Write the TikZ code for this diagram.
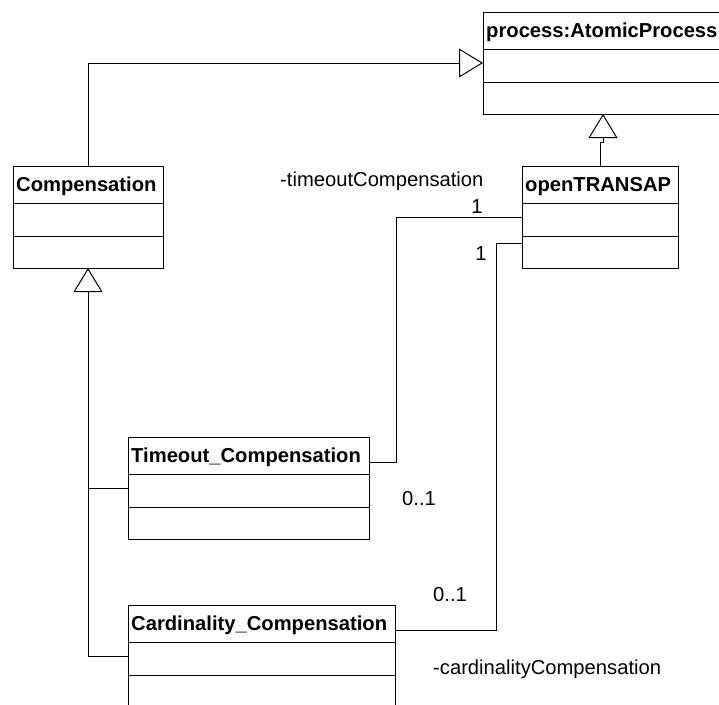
\documentclass[tikz,border=0pt]{standalone}
\usepackage{fontspec}
\setmainfont{Liberation Sans}
\usetikzlibrary{arrows.meta,calc}

\tikzset{
  classbox/.style={draw, line width=1pt, minimum height=102pt, inner sep=0pt,
                   outer sep=0pt, anchor=north west},
  classtitle/.style={anchor=base west, inner sep=0pt,
                     font=\fontsize{20.2}{24}\selectfont\bfseries},
  lbl/.style={inner sep=0pt, font=\fontsize{20.2}{24}\selectfont},
  conn/.style={line width=1pt},
  gen/.style={conn, -{Triangle[open, length=24pt, width=29pt]}},
  compline/.style={line width=1pt},
}

% UML class box: name, x, y (top left), width, title
\newcommand\umlclass[5]{%
  \node[classbox, minimum width=#4pt] (#1) at (#2,#3) {};
  \node[classtitle] (#1-title) at ([xshift=3pt,yshift=-25pt]#1.north west) {#5};
  \draw[compline] ([yshift=-37pt]#1.north west) -- ([yshift=-37pt]#1.north east);
  \draw[compline] ([yshift=-70pt]#1.north west) -- ([yshift=-70pt]#1.north east);
}

\begin{document}
\begin{tikzpicture}[x=1pt, y=-1pt]
  \useasboundingbox (0,0) rectangle (719,704);
  \fill[white] (0,0) rectangle (719,704);
  \clip (0,0) rectangle (719,704);

  % classes
  \umlclass{atomic}{483}{12}{240}{process:AtomicProcess}
  \umlclass{comp}{13}{166}{150}{Compensation}
  \umlclass{open}{522}{166}{156}{openTRANSAP}
  \umlclass{tim}{128}{437}{241}{Timeout\_Compensation}
  \umlclass{card}{128}{605}{267}{Cardinality\_Compensation}

  % generalizations
  \draw[gen] (comp.north) |- ([yshift=-51pt]atomic.north west);
  \draw[gen] (open.north) -- ++(0,-24) -| (atomic.south);
  \coordinate (tbranch) at ([yshift=-51pt]tim.north west);
  \coordinate (cbranch) at ([yshift=-51.5pt]card.north west);
  \coordinate (junction) at (comp.south |- tbranch);
  \draw[gen] (tbranch) -| (comp.south);
  \draw[conn] (cbranch) -| (junction);

  % associations
  \coordinate (topen) at ([yshift=-51pt]open.north west);
  \coordinate (copen) at ([yshift=-77pt]open.north west);
  \draw[conn] ([yshift=-25pt]tim.north east) -| ([xshift=-126pt]topen) -- (topen);
  \draw[conn] ([yshift=-25.5pt]card.north east) -| ([xshift=-26pt]copen) -- (copen);

  % role names and multiplicities
  \node[lbl, anchor=base west] (troleName) at (280,186.7) {-timeoutCompensation};
  \node[lbl, anchor=base] (tmultOpen) at (477,213.5) {1};
  \node[lbl, anchor=base] (cmultOpen) at (481,260) {1};
  \node[lbl, anchor=base west] (tmultTim) at (402,505) {0..1};
  \node[lbl, anchor=base west] (cmultCard) at (433,601.7) {0..1};
  \node[lbl, anchor=base west] (croleName) at (433,674) {-cardinalityCompensation};
\end{tikzpicture}
\end{document}
